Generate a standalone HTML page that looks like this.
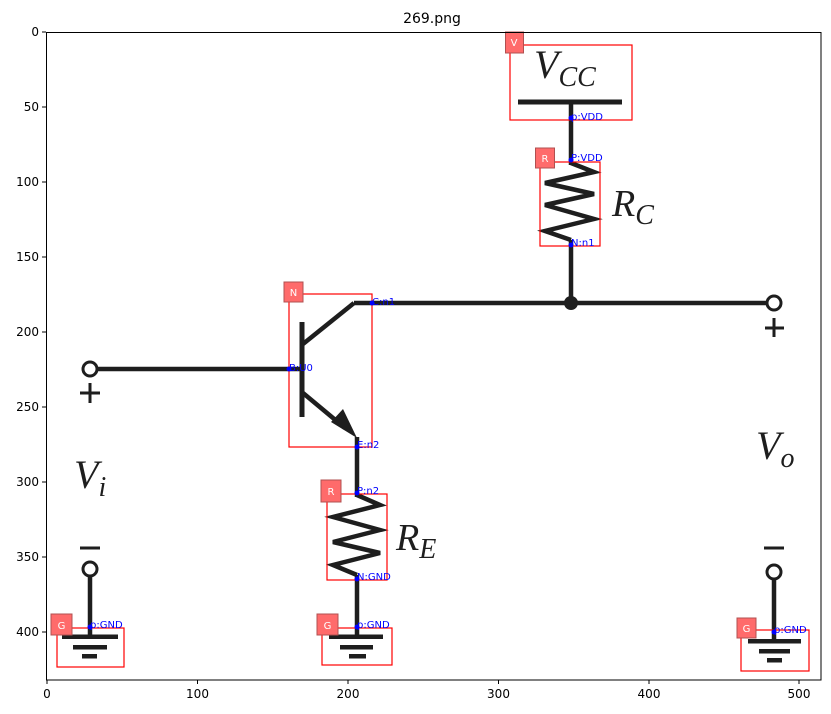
<!DOCTYPE html>
<html><head><meta charset="utf-8"><style>html,body{margin:0;padding:0;background:#fff}svg{display:block}</style></head>
<body>
<svg width="831" height="714" viewBox="0 0 831 714" xmlns="http://www.w3.org/2000/svg" font-family="'DejaVu Sans','Liberation Sans',sans-serif">
<rect width="831" height="714" fill="#fff"/>
<text x="432" y="23" font-size="14" text-anchor="middle" fill="#000">269.png</text>
<!-- ticks -->
<g stroke="#000" stroke-width="1">
<line x1="47" y1="680" x2="47" y2="684"/><line x1="197.5" y1="680" x2="197.5" y2="684"/><line x1="348" y1="680" x2="348" y2="684"/><line x1="498.5" y1="680" x2="498.5" y2="684"/><line x1="649" y1="680" x2="649" y2="684"/><line x1="799" y1="680" x2="799" y2="684"/>
<line x1="42" y1="32" x2="46" y2="32"/><line x1="42" y1="107" x2="46" y2="107"/><line x1="42" y1="182" x2="46" y2="182"/><line x1="42" y1="257" x2="46" y2="257"/><line x1="42" y1="332" x2="46" y2="332"/><line x1="42" y1="407" x2="46" y2="407"/><line x1="42" y1="482" x2="46" y2="482"/><line x1="42" y1="557" x2="46" y2="557"/><line x1="42" y1="632" x2="46" y2="632"/>
</g>
<g font-size="12" fill="#000" text-anchor="middle">
<text x="47" y="698">0</text><text x="197.5" y="698">100</text><text x="348" y="698">200</text><text x="498.5" y="698">300</text><text x="649" y="698">400</text><text x="799" y="698">500</text>
</g>
<g font-size="12" fill="#000" text-anchor="end">
<text x="39" y="36">0</text><text x="39" y="111">50</text><text x="39" y="186">100</text><text x="39" y="261">150</text><text x="39" y="336">200</text><text x="39" y="411">250</text><text x="39" y="486">300</text><text x="39" y="561">350</text><text x="39" y="636">400</text>
</g>

<!-- circuit -->
<g stroke="#1e1e1e" fill="none" stroke-width="4.5" stroke-linejoin="miter">
<line x1="518" y1="102" x2="622" y2="102" stroke-width="5"/>
<line x1="571" y1="102" x2="571" y2="165"/>
<polyline points="571,163 594,172 545,183 594,194 545,205 594,219 545,231 571,240"/>
<line x1="571" y1="240" x2="571" y2="303"/>
<line x1="354" y1="303" x2="767" y2="303"/>
<polyline points="354,303 303,344"/>
<line x1="302" y1="322" x2="302" y2="417" stroke-width="5"/>
<line x1="97" y1="369" x2="302" y2="369"/>
<line x1="303" y1="393" x2="345" y2="428"/>
<line x1="357" y1="437" x2="357" y2="497"/>
<polyline points="357,495 380,505 333,517 380,530 333,542 380,553 333,565 357,575"/>
<line x1="357" y1="575" x2="357" y2="636"/>
<line x1="90" y1="576" x2="90" y2="636"/>
<line x1="774" y1="579" x2="774" y2="641"/>
</g>
<polygon points="357,438 331,422 343,409" fill="#1e1e1e"/>
<circle cx="571" cy="303" r="7" fill="#1e1e1e"/>
<g stroke="#1e1e1e" stroke-width="3" fill="#fff">
<circle cx="774" cy="303" r="7"/>
<circle cx="90" cy="369" r="7"/>
<circle cx="90" cy="569" r="7"/>
<circle cx="774" cy="572" r="7"/>
</g>
<g stroke="#1e1e1e" stroke-width="3">
<line x1="774" y1="318" x2="774" y2="337"/><line x1="765" y1="328" x2="784" y2="328"/>
<line x1="90" y1="383" x2="90" y2="403"/><line x1="80" y1="393" x2="100" y2="393"/>
<line x1="80" y1="548" x2="100" y2="548"/>
<line x1="764" y1="548" x2="784" y2="548"/>
</g>
<g fill="#1e1e1e">
<rect x="62" y="634.5" width="56" height="4.5"/><rect x="73" y="645" width="34" height="4.5"/><rect x="82" y="654" width="15" height="4.5"/>
<rect x="329" y="634.5" width="54" height="4.5"/><rect x="340" y="645" width="33" height="4.5"/><rect x="349" y="654" width="17" height="4.5"/>
<rect x="748" y="639" width="53" height="4.5"/><rect x="759" y="649" width="31" height="4.5"/><rect x="767" y="658" width="15" height="4.5"/>
</g>
<g font-family="'Liberation Serif',serif" font-style="italic" fill="#1e1e1e">
<text x="534" y="78" font-size="40">V<tspan font-size="28" dy="8">CC</tspan></text>
<text x="612" y="216" font-size="38">R<tspan font-size="28" dy="8">C</tspan></text>
<text x="396" y="550" font-size="38">R<tspan font-size="28" dy="8">E</tspan></text>
<text x="74" y="488" font-size="40">V<tspan font-size="28" dy="8">i</tspan></text>
<text x="756" y="459" font-size="40">V<tspan font-size="28" dy="8">o</tspan></text>
</g>

<!-- annotation boxes -->
<g fill="none" stroke="#ff0000" stroke-width="1.2">
<rect x="510" y="45" width="122" height="75"/>
<rect x="540" y="162" width="60" height="84"/>
<rect x="289" y="294" width="83" height="153"/>
<rect x="327" y="494" width="60" height="86"/>
<rect x="57" y="628" width="67" height="39"/>
<rect x="322" y="628" width="70" height="37"/>
<rect x="741" y="630" width="68" height="41"/>
</g>
<g fill="#ff6b6b" stroke="#b05050" stroke-width="1">
<rect x="505.5" y="32" width="18" height="21"/>
<rect x="535.5" y="148" width="19" height="20"/>
<rect x="284" y="282" width="19" height="20"/>
<rect x="321" y="480" width="20" height="22"/>
<rect x="51" y="614" width="21" height="21"/>
<rect x="317" y="614" width="21" height="21"/>
<rect x="737" y="618" width="19" height="20"/>
</g>
<g fill="#fff" font-size="10" text-anchor="middle">
<text x="514" y="46">V</text><text x="545" y="162">R</text><text x="293.5" y="296">N</text><text x="331" y="495">R</text><text x="61.5" y="629">G</text><text x="327.5" y="629">G</text><text x="746.5" y="632">G</text>
</g>
<g fill="#0000ff">
<circle cx="571" cy="118" r="2.5"/><circle cx="571" cy="160" r="2.5"/><circle cx="571" cy="245" r="2.5"/>
<circle cx="372" cy="303" r="2.5"/><circle cx="289" cy="369" r="2.5"/><circle cx="357" cy="447" r="2.5"/>
<circle cx="357" cy="493" r="2.5"/><circle cx="357" cy="579" r="2.5"/><circle cx="357" cy="627" r="2.5"/>
<circle cx="90" cy="627" r="2.5"/><circle cx="774" cy="632" r="2.5"/>
</g>
<g fill="#0000ff" font-size="10">
<text x="571" y="120">p:VDD</text><text x="571" y="161">P:VDD</text><text x="571" y="246">N:n1</text>
<text x="372" y="305">C:n1</text><text x="289" y="371">B:U0</text><text x="357" y="448">E:n2</text>
<text x="357" y="494">P:n2</text><text x="357" y="580">N:GND</text><text x="357" y="628">p:GND</text>
<text x="90" y="628">p:GND</text><text x="774" y="633">p:GND</text>
</g>
<!-- axes frame -->
<rect x="46.5" y="32.5" width="774.5" height="647.5" fill="none" stroke="#000" stroke-width="1"/>
</svg>
</body></html>
